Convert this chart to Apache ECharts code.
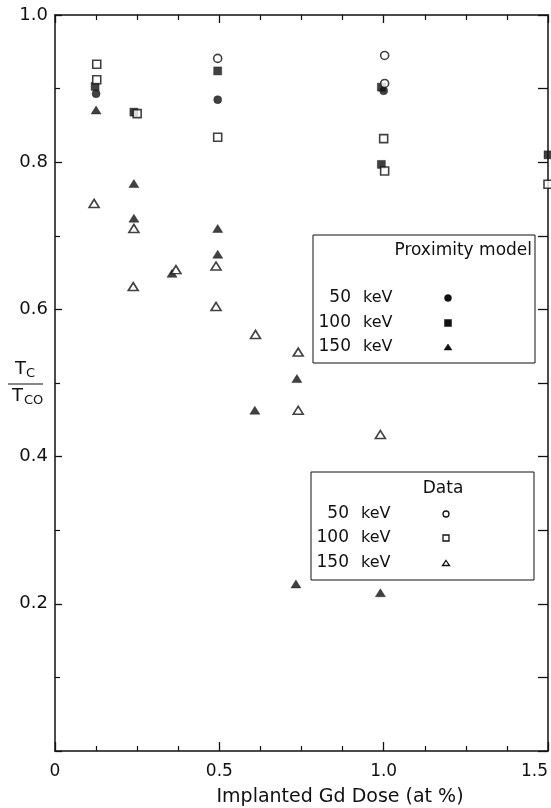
<!DOCTYPE html>
<html>
<head>
<meta charset="utf-8">
<script src="https://cdn.jsdelivr.net/npm/echarts@6/dist/echarts.min.js"></script>
<style>
  html, body { margin: 0; padding: 0; background: #fff; }
  #chart { width: 551px; height: 808px; }
</style>
</head>
<body>
<div id="chart"></div>
<script>
// [dose (at %), Tc/Tco]
var model50 = [[0.125, 0.893], [0.495, 0.885], [1.0, 0.897]];
var model100 = [[0.122, 0.903], [0.24, 0.868], [0.495, 0.924], [0.993, 0.902], [0.993, 0.797], [1.5, 0.81]];
var model150 = [[0.125, 0.871], [0.24, 0.771], [0.24, 0.724], [0.356, 0.649], [0.495, 0.71], [0.495, 0.675],
  [0.608, 0.463], [0.736, 0.506], [0.733, 0.227], [0.99, 0.215]];
var data50 = [[0.495, 0.941], [1.003, 0.945], [1.003, 0.907]];
var data100 = [[0.127, 0.933], [0.127, 0.912], [0.25, 0.866], [0.495, 0.834], [1.0, 0.832], [1.003, 0.788], [1.5, 0.77]];
var data150 = [[0.119, 0.744], [0.24, 0.71], [0.238, 0.631], [0.368, 0.654], [0.49, 0.659], [0.49, 0.604],
  [0.61, 0.566], [0.74, 0.542], [0.74, 0.463], [0.99, 0.43]];

var xTicks = [0, 0.5, 1.0, 1.5];
var yTicks = [0.2, 0.4, 0.6, 0.8, 1.0];
var energies = ["50", "100", "150"];

var font = "DejaVu Sans";
var ink = "#111";

var chart = echarts.init(document.getElementById("chart"));

function filled(name, data, symbol, size) {
  return {
    name: name, type: "scatter", data: data, symbol: symbol, symbolSize: size,
    clip: false, silent: true,
    itemStyle: { color: ink, borderColor: ink, borderWidth: 0.5 }
  };
}
function open(name, data, symbol, size) {
  return {
    name: name, type: "scatter", data: data, symbol: symbol, symbolSize: size,
    clip: false, silent: true,
    itemStyle: { color: "#fff", borderColor: ink, borderWidth: 1.6 }
  };
}

function tri(cx, cy, w, h) {
  return [[cx, cy - h / 2], [cx + w / 2, cy + h / 2], [cx - w / 2, cy + h / 2]];
}

function legendBox(x, y, w, h, title, titleX, titleAlign, rows, markerX, isOpen, ms) {
  var els = [{
    type: "rect", shape: { x: x, y: y, width: w, height: h },
    style: { fill: "none", stroke: ink, lineWidth: 1 }
  }, {
    type: "text", x: titleX, y: rows.titleY,
    style: { text: title, font: "17px " + font, fill: ink, align: titleAlign, verticalAlign: "middle" }
  }];
  var fill = isOpen ? "#fff" : ink;
  var lw = isOpen ? 1.3 : 0.5;
  energies.forEach(function (e, i) {
    var ry = rows.y[i];
    els.push({
      type: "text", x: x + 38, y: ry,
      style: { text: e, font: "17px " + font, fill: ink, align: "right", verticalAlign: "middle" }
    });
    els.push({
      type: "text", x: x + 50, y: ry,
      style: { text: "keV", font: "16px " + font, fill: ink, align: "left", verticalAlign: "middle" }
    });
    var mark;
    if (i === 0) {
      mark = { type: "circle", shape: { cx: markerX, cy: ry, r: ms / 2 } };
    } else if (i === 1) {
      mark = { type: "rect", shape: { x: markerX - ms / 2, y: ry - ms / 2, width: ms, height: ms } };
    } else {
      mark = { type: "polygon", shape: { points: tri(markerX, ry, ms + 1, ms - 1) } };
    }
    mark.style = { fill: fill, stroke: ink, lineWidth: lw };
    els.push(mark);
  });
  return els;
}

var graphics = []
  .concat(legendBox(313, 235, 222, 128, "Proximity model", 532, "right",
    { titleY: 251, y: [298, 323, 347] }, 448, false, 7))
  .concat(legendBox(311, 472, 223, 108, "Data", 443, "center",
    { titleY: 489, y: [514, 538, 563] }, 446, true, 6));

// Tc / Tco fraction as the y axis title
graphics.push(
  { type: "text", x: 15, y: 369, style: { text: "T", font: "18px " + font, fill: ink, verticalAlign: "middle" } },
  { type: "text", x: 26, y: 374, style: { text: "C", font: "13px " + font, fill: ink, verticalAlign: "middle" } },
  { type: "line", shape: { x1: 8, y1: 384, x2: 43, y2: 384 }, style: { stroke: ink, lineWidth: 1 } },
  { type: "text", x: 12, y: 396, style: { text: "T", font: "18px " + font, fill: ink, verticalAlign: "middle" } },
  { type: "text", x: 24, y: 401, style: { text: "CO", font: "13px " + font, fill: ink, verticalAlign: "middle" } },
  { type: "text", x: 340, y: 797, style: { text: "Implanted Gd Dose (at %)", font: "19px " + font, fill: ink, align: "center", verticalAlign: "middle" } }
);

var axisLine = { show: true, onZero: false, lineStyle: { color: ink, width: 1.5 } };

chart.setOption({
  animation: false,
  backgroundColor: "#fff",
  grid: { left: 55, right: 3, top: 15, bottom: 57, containLabel: false, outerBoundsMode: "none" },
  xAxis: [{
    type: "value", min: 0, max: 1.5, interval: 0.5, position: "bottom",
    axisLine: axisLine,
    axisTick: { show: true, inside: true, length: 9, lineStyle: { color: ink, width: 1.3 } },
    minorTick: { show: true, splitNumber: 4, length: 5, lineStyle: { color: ink, width: 1.2 } },
    splitLine: { show: false },
    axisLabel: {
      margin: 12, color: ink, fontFamily: font, fontSize: 17, alignMaxLabel: "right",
      formatter: function (v) { return xTicks.indexOf(v) < 0 ? "" : (v === 0 ? "0" : v.toFixed(1)); }
    }
  }, {
    type: "value", min: 0, max: 1.5, interval: 0.5, position: "top",
    axisLine: axisLine,
    axisTick: { show: true, inside: true, length: 8, lineStyle: { color: ink, width: 1.3 } },
    minorTick: { show: true, splitNumber: 4, length: 5, lineStyle: { color: ink, width: 1.2 } },
    splitLine: { show: false },
    axisLabel: { show: false }
  }],
  yAxis: [{
    type: "value", min: 0, max: 1.0, interval: 0.2, position: "left",
    axisLine: axisLine,
    axisTick: { show: true, inside: true, length: 7, lineStyle: { color: ink, width: 1.3 } },
    minorTick: { show: true, splitNumber: 2, length: 5, lineStyle: { color: ink, width: 1.2 } },
    splitLine: { show: false },
    axisLabel: {
      margin: 7, color: ink, fontFamily: font, fontSize: 18,
      formatter: function (v) { return yTicks.indexOf(Math.round(v * 10) / 10) < 0 ? "" : v.toFixed(1); }
    }
  }, {
    type: "value", min: 0, max: 1.0, interval: 0.1, position: "right",
    axisLine: axisLine,
    axisTick: { show: true, inside: true, length: 10, lineStyle: { color: ink, width: 1.3 } },
    splitLine: { show: false },
    axisLabel: { show: false }
  }],
  series: [
    filled("50 keV model", model50, "circle", 8),
    filled("100 keV model", model100, "rect", 8),
    filled("150 keV model", model150, "triangle", [10, 8]),
    open("50 keV data", data50, "circle", 8),
    open("100 keV data", data100, "rect", 8),
    open("150 keV data", data150, "triangle", [10, 8])
  ],
  graphic: graphics
});
</script>
</body>
</html>
